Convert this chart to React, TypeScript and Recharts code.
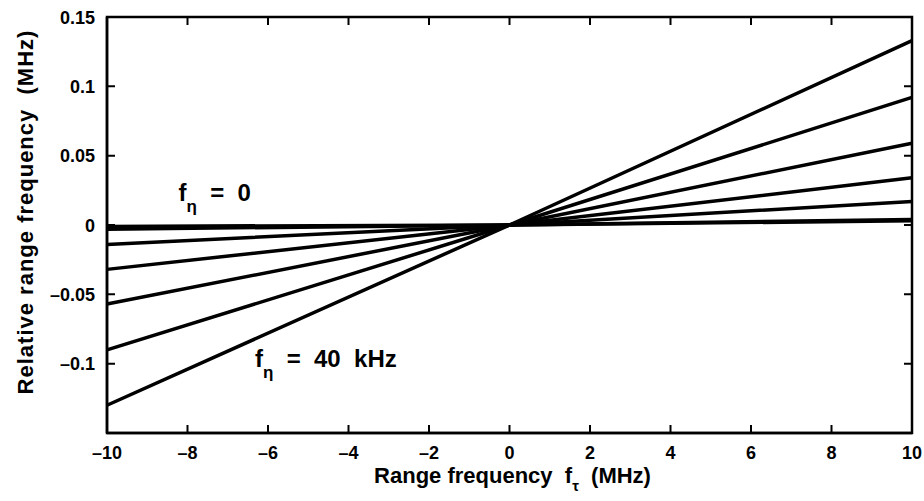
import { Line, LineChart, ReferenceDot, XAxis, YAxis } from "recharts";

// range frequency f_tau (MHz), sample points of every curve
const rangeFreq = [-10, 0, 10];

// relative range frequency (MHz) for each azimuth frequency f_eta
const feta0 = [-0.001, 0, 0.003];
const feta7 = [-0.003, 0, 0.004];
const feta13 = [-0.014, 0, 0.017];
const feta20 = [-0.032, 0, 0.034];
const feta27 = [-0.057, 0, 0.059];
const feta33 = [-0.09, 0, 0.092];
const feta40 = [-0.13, 0, 0.133];

const xTicks = [-10, -8, -6, -4, -2, 0, 2, 4, 6, 8, 10];
const yTicks = [-0.1, -0.05, 0, 0.05, 0.1, 0.15];

const seriesKeys = ["feta0", "feta7", "feta13", "feta20", "feta27", "feta33", "feta40"];
const seriesValues = [feta0, feta7, feta13, feta20, feta27, feta33, feta40];

const data = rangeFreq.map((f, i) => {
  const row: Record<string, number> = { f };
  seriesKeys.forEach((k, j) => {
    row[k] = seriesValues[j][i];
  });
  return row;
});

const W = 924;
const H = 501;
const M = { top: 17, right: 12, bottom: 0, left: 0 };
const Y_AXIS_W = 107;
const X_AXIS_H = 68;
const PLOT_W = W - M.left - M.right - Y_AXIS_W;
const PLOT_H = H - M.top - M.bottom - X_AXIS_H;
const BOX = 2.5;

const FONT = '"Liberation Sans", Arial, Helvetica, sans-serif';
const fmt = (v: number) => String(v).replace("-", "\u2013");

// matlab style: inward ticks at the bottom, repeated on the top edge of the box
const BottomTick = (props: any) => {
  const { x, y, payload } = props;
  const top = y - PLOT_H;
  return (
    <g>
      <path d={`M${x},${y}V${y - 8}M${x},${top}V${top + 8}`} stroke="#000" strokeWidth={2} fill="none" />
      <text x={x} y={y + 26} textAnchor="middle" fontSize={18} fontWeight={700} fontFamily={FONT} fill="#000">
        {fmt(payload.value)}
      </text>
    </g>
  );
};

const LeftTick = (props: any) => {
  const { x, y, payload } = props;
  const right = x + PLOT_W;
  return (
    <g>
      <path d={`M${x},${y}H${x + 8}M${right},${y}H${right - 8}`} stroke="#000" strokeWidth={2} fill="none" />
      <text x={x - 12} y={y + 6.5} textAnchor="end" fontSize={18} fontWeight={700} fontFamily={FONT} fill="#000">
        {fmt(payload.value)}
      </text>
    </g>
  );
};

const XTitle = (props: any) => {
  const { viewBox } = props;
  const cx = viewBox.x + viewBox.width / 2 + 3;
  return (
    <text x={cx} y={viewBox.y + 50} textAnchor="middle" fontSize={22} fontWeight={700} fontFamily={FONT} fill="#000" style={{ whiteSpace: "pre" }}>
      <tspan>Range frequency  f</tspan>
      <tspan dy={8} fontSize={15}>τ</tspan>
      <tspan dy={-8}>  (MHz)</tspan>
    </text>
  );
};

// y title, plus the box round the plot area
const YTitle = (props: any) => {
  const { viewBox } = props;
  const x = viewBox.x + 33;
  const y = viewBox.y + viewBox.height / 2 - 13;
  return (
    <g>
      <rect x={viewBox.x + viewBox.width} y={viewBox.y} width={PLOT_W} height={viewBox.height} fill="none" stroke="#000" strokeWidth={BOX} />
      <text x={x} y={y} transform={`rotate(-90 ${x} ${y})`} textAnchor="middle" fontSize={22} fontWeight={700} fontFamily={FONT} fill="#000" letterSpacing={1} style={{ whiteSpace: "pre" }}>
        Relative range frequency  (MHz)
      </text>
    </g>
  );
};

const etaLabel = (value: string) => (props: any) => {
  const { viewBox } = props;
  return (
    <text x={viewBox.x} y={viewBox.y} fontSize={24} fontWeight={700} fontFamily={FONT} fill="#000" style={{ whiteSpace: "pre" }}>
      <tspan>f</tspan>
      <tspan dy={11} fontSize={17}>η</tspan>
      <tspan dy={-11}>{"  =  " + value}</tspan>
    </text>
  );
};

export default function App() {
  return (
    <div style={{ position: "absolute", left: 0, top: 0, width: W, height: H, background: "#fff" }}>
      <LineChart width={W} height={H} data={data} margin={M}>
        <XAxis
          dataKey="f"
          type="number"
          domain={[-10, 10]}
          ticks={xTicks}
          height={X_AXIS_H}
          tickSize={0}
          tickMargin={0}
          tickLine={false}
          axisLine={{ stroke: "#000", strokeWidth: BOX }}
          tick={BottomTick}
          interval={0}
          label={{ content: XTitle }}
        />
        <YAxis
          type="number"
          domain={[-0.15, 0.15]}
          ticks={yTicks}
          width={Y_AXIS_W}
          tickSize={0}
          tickMargin={0}
          tickLine={false}
          axisLine={{ stroke: "#000", strokeWidth: BOX }}
          tick={LeftTick}
          interval={0}
          allowDataOverflow
          label={{ content: YTitle }}
        />
        {seriesKeys.map((k) => (
          <Line key={k} type="linear" dataKey={k} stroke="#000" strokeWidth={3.5} dot={false} isAnimationActive={false} />
        ))}
        <ReferenceDot x={-8.2} y={0.0165} r={1} fill="none" stroke="none" label={{ content: etaLabel("0") }} />
        <ReferenceDot x={-6.3} y={-0.103} r={1} fill="none" stroke="none" label={{ content: etaLabel("40  kHz") }} />
      </LineChart>
      {/* box round the plot area */}
      <div
        style={{
          position: "absolute",
          left: M.left + Y_AXIS_W - BOX / 2,
          top: M.top - BOX / 2,
          width: PLOT_W + BOX,
          height: PLOT_H + BOX,
          boxSizing: "border-box",
          border: `${BOX}px solid #000`,
          pointerEvents: "none",
        }}
      />
    </div>
  );
}
